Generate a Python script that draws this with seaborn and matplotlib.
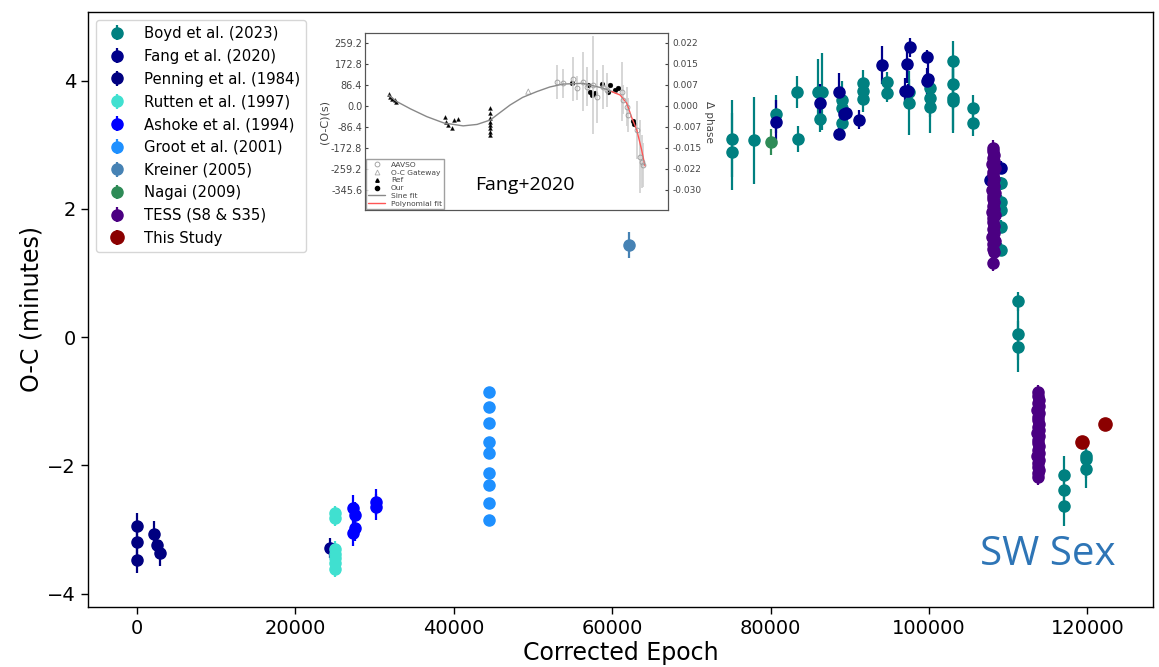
import matplotlib
matplotlib.use("Agg")
import matplotlib.pyplot as plt
import seaborn as sns
from matplotlib.lines import Line2D

# ---------------- main data ----------------
boyd_x = [75090, 75090, 77870, 80640, 83290, 83420, 85950, 86450, 86200,
          88970, 88970, 88970, 91630, 91630, 91630, 94650, 94650, 97430, 97430,
          100080, 100080, 100080, 102980, 102980, 102980, 102980, 105630, 105630,
          109160, 109160, 109160, 109160, 109160, 111310, 111310, 111310,
          117110, 117110, 117110, 119890, 119890, 119890]
boyd_y = [3.09, 2.89, 3.07, 3.48, 3.82, 3.09, 3.83, 3.83, 3.40,
          3.70, 3.57, 3.34, 3.96, 3.84, 3.71, 3.98, 3.81, 3.82, 3.65,
          3.88, 3.73, 3.59, 4.31, 3.95, 3.73, 3.68, 3.57, 3.34,
          2.40, 2.11, 1.98, 1.72, 1.36, 0.56, 0.05, -0.15,
          -2.15, -2.39, -2.64, -1.86, -1.90, -2.06]
boyd_e = [0.60, 0.60, 0.68, 0.30, 0.25, 0.20, 0.50, 0.60, 0.20,
          0.30, 0.20, 0.20, 0.20, 0.20, 0.20, 0.15, 0.15, 0.20, 0.50,
          0.20, 0.30, 0.40, 0.30, 0.40, 0.50, 0.50, 0.20, 0.20,
          0.10, 0.10, 0.10, 0.10, 0.10, 0.15, 0.40, 0.40,
          0.30, 0.30, 0.30, 0.30, 0.30, 0.30]

fang_x = [24360, 80640, 86200, 88590, 88590, 89220, 89500, 91120, 94020,
          97170, 97000, 97400, 97560, 99700, 99900, 99700, 109050, 107700]
fang_y = [-3.29, 3.35, 3.65, 3.82, 3.17, 3.48, 3.50, 3.39, 4.24,
          4.26, 3.84, 3.84, 4.52, 4.37, 4.02, 3.99, 2.64, 2.45]
fang_e = [0.15, 0.35, 0.30, 0.30, 0.10, 0.15, 0.10, 0.15, 0.30,
          0.30, 0.20, 0.10, 0.15, 0.10, 0.30, 0.20, 0.10, 0.10]

penning_x = [0, 0, 0, 2150, 2530, 2900]
penning_y = [-2.95, -3.20, -3.48, -3.07, -3.25, -3.37]
penning_e = [0.2, 0.2, 0.2, 0.2, 0.2, 0.2]

rutten_x = [24990, 24990, 24990, 24990, 24990, 24990, 24990]
rutten_y = [-2.75, -2.82, -3.30, -3.38, -3.45, -3.53, -3.62]
rutten_e = [0.12, 0.12, 0.12, 0.12, 0.12, 0.12, 0.12]

ashoke_x = [27260, 27510, 27510, 27260, 30160, 30160]
ashoke_y = [-2.67, -2.78, -2.98, -3.06, -2.57, -2.65]
ashoke_e = [0.2, 0.2, 0.2, 0.2, 0.2, 0.2]

groot_x = [44420] * 9
groot_y = [-0.86, -1.09, -1.34, -1.64, -1.81, -2.12, -2.31, -2.59, -2.85]
groot_e = [0.0] * 9

kreiner_x = [62090]
kreiner_y = [1.44]
kreiner_e = [0.2]

nagai_x = [80010]
nagai_y = [3.04]
nagai_e = [0.2]

tess_x = [108150, 108050, 108250, 108100, 108200, 108000, 108300, 108150,
          108050, 108250, 108100, 108200, 108000, 108300, 108150, 108050,
          108250, 108100, 108200, 108000, 108300, 108150, 108050, 108250,
          108100, 108200, 108000, 108300, 108150, 108050, 108250, 108150,
          113830, 113730, 113930, 113780, 113880, 113700, 113950, 113830,
          113730, 113930, 113780, 113880, 113700, 113950, 113830, 113730,
          113930, 113780, 113880, 113700, 113950, 113830, 113730, 113930,
          113780, 113830]
tess_y = [2.95, 2.90, 2.84, 2.80, 2.74, 2.70, 2.63, 2.58, 2.52, 2.47, 2.41,
          2.36, 2.30, 2.25, 2.20, 2.16, 2.11, 2.05, 2.00, 1.95, 1.90, 1.86,
          1.80, 1.74, 1.68, 1.62, 1.56, 1.50, 1.45, 1.38, 1.33, 1.15,
          -0.86, -0.92, -0.98, -1.03, -1.08, -1.14, -1.19, -1.24, -1.30,
          -1.35, -1.40, -1.45, -1.50, -1.55, -1.60, -1.65, -1.70, -1.76,
          -1.81, -1.86, -1.92, -1.97, -2.02, -2.07, -2.12, -2.18]
tess_e = [0.12] * len(tess_y)

study_x = [119380, 122290]
study_y = [-1.64, -1.36]
study_e = [0.03, 0.03]

xticks = [0, 20000, 40000, 60000, 80000, 100000, 120000]
yticks = [-4, -2, 0, 2, 4]

# ---------------- inset (Fang+2020) data ----------------
ins_ref_x = [7.9, 8.1, 9.0, 9.8, 10.2, 26.4, 26.8, 27.5, 28.6, 29.4, 30.7,
             41.3, 41.3, 41.3, 41.3, 41.3, 41.3, 41.3, 41.3]
ins_ref_y = [49, 36, 28, 25, 18, -44, -65, -78, -92, -58, -55,
             -10, -30, -51, -65, -78, -92, -106, -119]
ins_our_x = [68.2, 73.7, 74.2, 74.8, 75.9, 78.1, 80.3, 80.9, 82.5, 83.6, 88.6, 88.8]
ins_our_y = [93, 86, 59, 45, 52, 89, 59, 86, 66, 73, -64, -74]
ins_aav_x = [63.3, 65.5, 68.7, 69.9, 72.0, 73.2, 75.3, 76.5, 78.6, 79.8,
             84.7, 85.3, 86.4, 86.9, 89.7, 90.8, 91.3, 91.8]
ins_aav_y = [100, 93, 110, 73, 100, 79, 86, 38, 79, 66,
             59, 25, -3, -37, -99, -209, -229, -243]
ins_aav_e = [70, 60, 90, 50, 120, 80, 200, 110, 90, 70,
             120, 60, 80, 70, 120, 150, 110, 90]
ins_gate_x = [53.9]
ins_gate_y = [59]
ins_sine_x = [7.8, 10.5, 15, 20.4, 26, 32.4, 37, 41.3, 47.9, 52, 56.7, 61,
              65.4, 72, 78.6, 83.1]
ins_sine_y = [45, 18, -12, -44, -70, -82, -76, -58, 4, 35, 59, 78,
              90, 93, 73, 52]
ins_poly_x = [81.4, 84.2, 86.4, 88.0, 89.7, 91.3, 92.4]
ins_poly_y = [59, 45, 11, -47, -99, -181, -247]
ins_left_ticks = [259.2, 172.8, 86.4, 0.0, -86.4, -172.8, -259.2, -345.6]
ins_left_labels = ["259.2", "172.8", "86.4", "0.0", "-86.4", "-172.8", "-259.2", "-345.6"]
ins_right_labels = ["0.022", "0.015", "0.007", "0.000", "-0.007", "-0.015", "-0.022", "-0.030"]

# ---------------- style ----------------
sns.set_style("ticks")
plt.rcParams['font.family'] = ['DejaVu Sans']
plt.rcParams['text.color'] = 'black'
plt.rcParams['axes.labelcolor'] = 'black'
plt.rcParams['xtick.color'] = 'black'
plt.rcParams['ytick.color'] = 'black'

W, H = 1159, 667
fig = plt.figure(figsize=(W / 100, H / 100), dpi=100)
ax = fig.add_axes([88 / W, 1 - 607 / H, (1153 - 88) / W, (607 - 12) / H])

series = [
    ("Boyd et al. (2023)", "#008080", boyd_x, boyd_y, boyd_e, 8),
    ("Fang et al. (2020)", "#00008B", fang_x, fang_y, fang_e, 8),
    ("Penning et al. (1984)", "#000080", penning_x, penning_y, penning_e, 8),
    ("Rutten et al. (1997)", "#40E0D0", rutten_x, rutten_y, rutten_e, 8),
    ("Ashoke et al. (1994)", "#0000FF", ashoke_x, ashoke_y, ashoke_e, 8),
    ("Groot et al. (2001)", "#1E90FF", groot_x, groot_y, groot_e, 8),
    ("Kreiner (2005)", "#4682B4", kreiner_x, kreiner_y, kreiner_e, 8),
    ("Nagai (2009)", "#2E8B57", nagai_x, nagai_y, nagai_e, 8),
    ("TESS (S8 & S35)", "#4B0082", tess_x, tess_y, tess_e, 8),
    ("This Study", "#8B0000", study_x, study_y, study_e, 9.5),
]
for lab, col, xs, ys, es, ms in series:
    ax.errorbar(xs, ys, yerr=es, fmt='o', color=col, ms=ms, elinewidth=1.6,
                capsize=0, label=lab)

ax.set_xlim(-6200, 128300)
ax.set_ylim(-4.21, 5.07)
ax.set_xticks(xticks)
ax.set_yticks(yticks)
ax.tick_params(labelsize=14, length=5, width=1, colors='black')
for s in ax.spines.values():
    s.set_color('black')
    s.set_linewidth(1.0)
ax.set_xlabel("Corrected Epoch", fontsize=17, labelpad=2, color='black')
ax.set_ylabel("O-C (minutes)", fontsize=17, labelpad=3, color='black')

ax.legend(loc='upper left', fontsize=10.7, labelspacing=0.52,
          borderaxespad=0.55, handletextpad=0.8, frameon=True,
          labelcolor='black')

fig.text(1048 / W, 1 - 555 / H, "SW Sex", fontsize=29, color="#2E75B6",
         ha='center', va='center', family=['Open Sans', 'DejaVu Sans'])

# ---------------- inset figure ----------------
bg = fig.add_axes([315 / W, 1 - 213 / H, 385 / W, 186 / H], zorder=5)
bg.set_facecolor('white')
bg.set_xticks([]); bg.set_yticks([])
for s in bg.spines.values():
    s.set_visible(False)

ins = fig.add_axes([365 / W, 1 - 210 / H, 303 / W, 177 / H], zorder=6)
ins.set_facecolor('white')
gray = '#555555'
ins.errorbar(ins_aav_x, ins_aav_y, yerr=ins_aav_e, fmt='o', mfc='none', mec='#999999',
             ms=3.5, mew=0.6, ecolor='#d0d0d0', elinewidth=1.2, capsize=0)
ins.plot(ins_sine_x, ins_sine_y, color='#888888', lw=1.0)
ins.plot(ins_poly_x, ins_poly_y, color='#ff5555', lw=1.0)
sns.scatterplot(x=ins_gate_x, y=ins_gate_y, marker='^', s=14, facecolor='none',
                edgecolor='#aaaaaa', linewidth=0.6, ax=ins)
sns.scatterplot(x=ins_ref_x, y=ins_ref_y, marker='^', s=8, color='black',
                edgecolor='black', ax=ins)
sns.scatterplot(x=ins_our_x, y=ins_our_y, marker='o', s=12, color='black',
                edgecolor='black', ax=ins)
ins.set_xlim(0, 100)
ins.set_ylim(-428, 300)
ins.set_xticks([])
ins.set_yticks(ins_left_ticks)
ins.set_yticklabels(ins_left_labels)
ins.tick_params(axis='y', labelsize=7, colors='#444444', length=2, direction='in', pad=2)
ins.set_ylabel("(O-C)(s)", fontsize=8, color='#444444', labelpad=1)
for s in ins.spines.values():
    s.set_color(gray)
    s.set_linewidth(0.8)

ins2 = ins.twinx()
ins2.set_ylim(-428, 300)
ins2.set_yticks(ins_left_ticks)
ins2.set_yticklabels(ins_right_labels)
ins2.tick_params(axis='y', labelsize=6.5, colors='#444444', length=2, direction='in', pad=3)
ins2.set_ylabel("Δ phase", fontsize=7.5, color='#444444', rotation=270, labelpad=9)
for s in ins2.spines.values():
    s.set_color(gray)
    s.set_linewidth(0.8)

handles = [
    Line2D([], [], marker='o', ls='none', mfc='none', mec='#999999', ms=3.5, mew=0.6),
    Line2D([], [], marker='^', ls='none', mfc='none', mec='#aaaaaa', ms=3.5, mew=0.6),
    Line2D([], [], marker='^', ls='none', color='black', ms=2.5),
    Line2D([], [], marker='o', ls='none', color='black', ms=3),
    Line2D([], [], color='#888888', lw=1.0),
    Line2D([], [], color='#ff5555', lw=1.0),
]
ins.legend(handles, ["AAVSO", "O-C Gateway", "Ref", "Our", "Sine fit", "Polynomial fit"],
           loc='lower left', fontsize=5.4, frameon=True, fancybox=False,
           edgecolor='#888888', labelspacing=0.2, borderpad=0.3,
           handlelength=2.2, borderaxespad=0.15, labelcolor='#444444')
ins.text(0.528, 0.141, "Fang+2020", transform=ins.transAxes, fontsize=14,
         ha='center', va='center', color='black',
         family=['Open Sans', 'DejaVu Sans'])

fig.savefig("out.png", dpi=100)
